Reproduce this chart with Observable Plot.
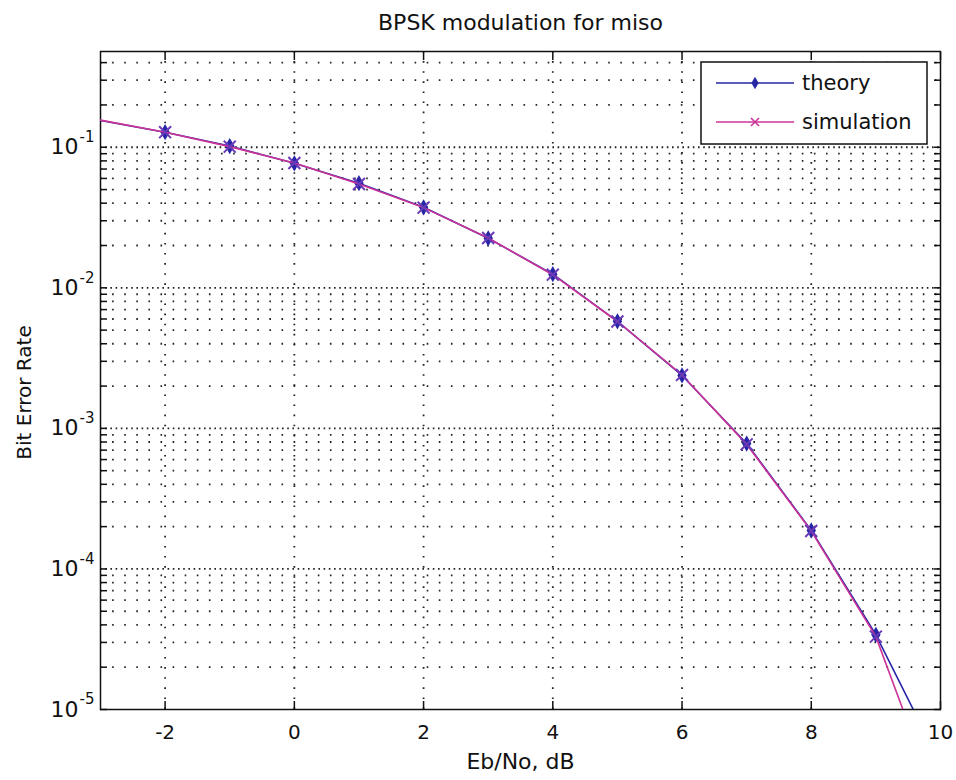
<!DOCTYPE html>
<html>
<head>
<meta charset="utf-8">
<script src="https://cdn.jsdelivr.net/npm/d3@7"></script>
<script src="https://cdn.jsdelivr.net/npm/@observablehq/plot@0.6"></script>
<style>
  html, body { margin: 0; padding: 0; background: #fff; }
  #chart { width: 956px; height: 780px; }
</style>
</head>
<body>
<div id="chart"></div>
<script>
// ---- data ----
const ebno = [-3, -2, -1, 0, 1, 2, 3, 4, 5, 6, 7, 8, 9, 10];
const theory = [0.155, 0.128, 0.102, 0.0769, 0.0555, 0.0374, 0.0225, 0.0125, 0.00578, 0.00238, 7.8e-4, 1.88e-4, 3.4e-5, 4.1e-6];
const simulation = [0.156, 0.128, 0.101, 0.0772, 0.0548, 0.0372, 0.0226, 0.0124, 0.00576, 0.00240, 7.7e-4, 1.86e-4, 3.3e-5, 1.9e-6];
const xTicks = [-2, 0, 2, 4, 6, 8, 10];
const xGrid = [-2, 0, 2, 4, 6, 8];
const decades = [1e-5, 1e-4, 1e-3, 1e-2, 1e-1];
const minorMult = [2, 3, 4, 5, 6, 7, 8, 9];
const titleText = "BPSK modulation for miso";
const xLabel = "Eb/No, dB";
const yLabel = "Bit Error Rate";
const seriesNames = ["theory", "simulation"];

// ---- derived tables ----
const minorTicks = [];
for (const d of decades) for (const m of minorMult) {
  const v = d * m;
  if (v <= 0.48) minorTicks.push(v);
}
const allYTicks = minorTicks.concat(decades);
const theoryData = ebno.map((x, i) => ({x, y: theory[i]}));
const simData = ebno.map((x, i) => ({x, y: simulation[i]}));
const markerFilter = d => d.x > -3 && d.x < 10;

const BLUE = "#2626a6";
const MAG = "#cc3399";
const FONT = "DejaVu Sans, Liberation Sans, sans-serif";
const blank = () => "";

const plot = Plot.plot({
  width: 956,
  height: 780,
  marginLeft: 100,
  marginRight: 16,
  marginTop: 51,
  marginBottom: 71,
  style: {fontFamily: FONT, background: "#fff", color: "#111"},
  x: {domain: [-3, 10]},
  y: {type: "log", domain: [1e-5, 0.48]},
  marks: [
    // grid
    Plot.ruleY(minorTicks, {y: d => d, stroke: "#222", strokeWidth: 1.8, strokeDasharray: "1.6,10.5"}),
    Plot.ruleY(decades.filter(d => d > 1e-5), {y: d => d, stroke: "#222", strokeWidth: 1.8, strokeDasharray: "1.6,3.6"}),
    Plot.ruleX(xGrid, {x: d => d, stroke: "#222", strokeWidth: 1.8, strokeDasharray: "1.6,8.5"}),
    // ticks (inward, all four sides)
    Plot.axisX({anchor: "bottom", ticks: xTicks, tickSize: 8, dy: -8, tickFormat: blank, label: null, stroke: "#111", strokeWidth: 1.5}),
    Plot.axisX({anchor: "top", ticks: xTicks, tickSize: 8, dy: 8, tickFormat: blank, label: null, stroke: "#111", strokeWidth: 1.5}),
    Plot.axisY({anchor: "left", ticks: allYTicks, tickSize: 7, dx: 7, tickFormat: blank, label: null, stroke: "#111", strokeWidth: 1.5}),
    Plot.axisY({anchor: "right", ticks: allYTicks, tickSize: 7, dx: -7, tickFormat: blank, label: null, stroke: "#111", strokeWidth: 1.5}),
    // x tick labels
    Plot.axisX({anchor: "bottom", ticks: xTicks, tickSize: 0, tickFormat: d => String(d), tickPadding: 15, fontSize: 20, label: null, fill: "#111"}),
    // y tick labels 10^k
    Plot.text(decades, {y: d => d, text: () => "10", frameAnchor: "left", textAnchor: "end", dx: -22, fontSize: 22, fill: "#111"}),
    Plot.text(decades, {y: d => d, text: d => String(Math.round(Math.log10(d))), frameAnchor: "left", textAnchor: "start", dx: -21, dy: -10, fontSize: 15, fill: "#111"}),
    // frame
    Plot.frame({stroke: "#111", strokeWidth: 1.5}),
    // series
    Plot.line(theoryData, {x: "x", y: "y", stroke: BLUE, strokeWidth: 1.6, clip: true}),
    Plot.dot(theoryData.filter(markerFilter), {x: "x", y: "y", symbol: "diamond", r: 4, fill: BLUE, stroke: BLUE, clip: true}),
    Plot.line(simData, {x: "x", y: "y", stroke: MAG, strokeWidth: 1.6, clip: true}),
    Plot.dot(simData.filter(markerFilter), {x: "x", y: "y", symbol: "times", r: 5.5, stroke: "#6a3ab8", strokeWidth: 2, clip: true}),
    // titles
    Plot.text([titleText], {frameAnchor: "top", textAnchor: "middle", dy: -29, fontSize: 22, letterSpacing: 1, fill: "#111", lineAnchor: "middle"}),
    Plot.text([xLabel], {frameAnchor: "bottom", textAnchor: "middle", dy: 52, fontSize: 22, letterSpacing: 0.6, fill: "#111", lineAnchor: "middle"}),
    Plot.text([yLabel], {frameAnchor: "left", textAnchor: "middle", dx: -76, dy: 12, rotate: -90, fontSize: 20, letterSpacing: 0.3, fill: "#111", lineAnchor: "middle"})
  ]
});

document.getElementById("chart").appendChild(plot);

// ---- legend ----
const svg = d3.select(plot);
const lg = svg.append("g").attr("transform", "translate(701,62)").attr("font-family", FONT).attr("text-anchor", "start");
lg.append("rect").attr("width", 226).attr("height", 82).attr("fill", "#fff").attr("stroke", "#111").attr("stroke-width", 1.5);
const colors = [BLUE, MAG];
seriesNames.forEach((name, i) => {
  const yy = 21 + i * 39;
  lg.append("line").attr("x1", 15).attr("x2", 93).attr("y1", yy).attr("y2", yy)
    .attr("stroke", colors[i]).attr("stroke-width", 1.6);
  if (i === 0) {
    lg.append("path").attr("d", d3.symbol(d3.symbolDiamond, 45)()).attr("transform", `translate(54,${yy})`).attr("fill", BLUE);
  } else {
    lg.append("path").attr("d", "M-4,-4L4,4M-4,4L4,-4").attr("transform", `translate(54,${yy})`).attr("stroke", MAG).attr("stroke-width", 1.6).attr("fill", "none");
  }
  lg.append("text").attr("x", 101).attr("y", yy).attr("dy", "0.35em").attr("font-size", 21)
    .attr("text-anchor", "start").attr("fill", "#111").text(name);
});
</script>
</body>
</html>
